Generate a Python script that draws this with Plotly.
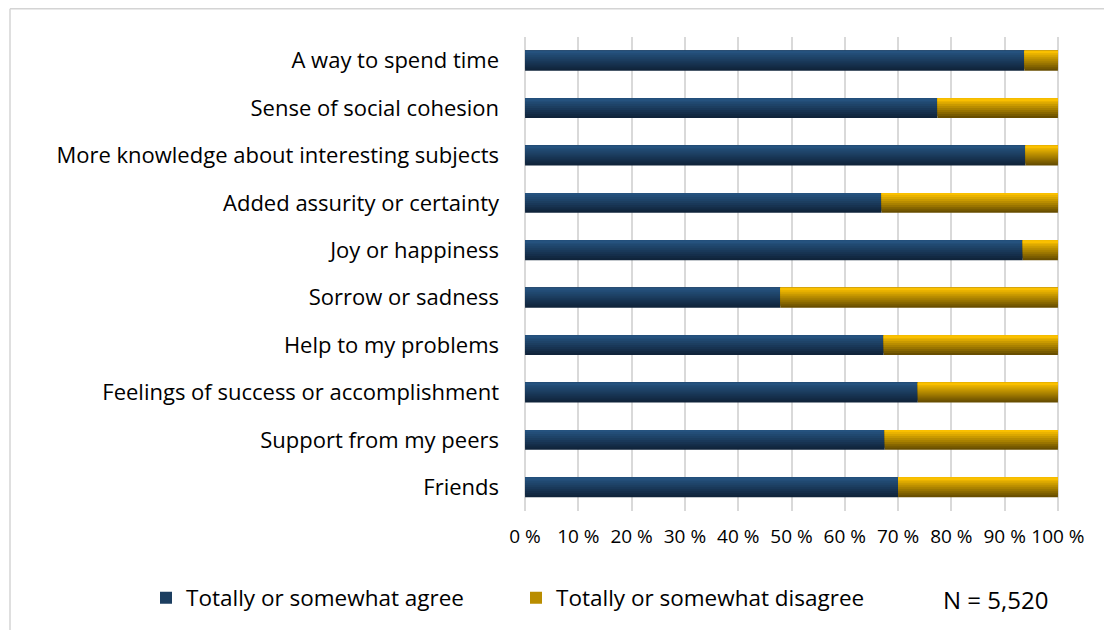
import plotly.graph_objects as go

# ---- data (top-to-bottom as shown) ----
categories = [
    "A way to spend time",
    "Sense of social cohesion",
    "More knowledge about interesting subjects",
    "Added assurity or certainty",
    "Joy or happiness",
    "Sorrow or sadness",
    "Help to my problems",
    "Feelings of success or accomplishment",
    "Support from my peers",
    "Friends",
]
agree = [93.7, 77.4, 93.9, 66.9, 93.4, 47.9, 67.3, 73.7, 67.5, 70.0]
disagree = [6.3, 22.6, 6.1, 33.1, 6.6, 52.1, 32.7, 26.3, 32.5, 30.0]
series_names = ["Totally or somewhat agree", "Totally or somewhat disagree"]
tick_values = [0, 10, 20, 30, 40, 50, 60, 70, 80, 90, 100]
tick_labels = [f"{v} %" for v in tick_values]
sample_note = "N = 5,520"

# ---- styling ----
FONT = "Open Sans"
BAR_T = 0.42          # bar thickness in category units
N_LAYERS = 10         # steps of the vertical gradient
blue_bottom, blue_top = (16, 36, 59), (37, 82, 126)
gold_bottom, gold_top = (104, 78, 0), (250, 192, 0)


def mix(c0, c1, t):
    return "rgb({},{},{})".format(*[round(a + (b - a) * t) for a, b in zip(c0, c1)])


cats = categories[::-1]
ag = agree[::-1]
dis = disagree[::-1]

fig = go.Figure()


def add_series(name, values, base, c_bottom, c_top):
    for k in range(N_LAYERS):
        h = BAR_T * (1 - k / N_LAYERS)
        fig.add_trace(go.Bar(
            y=cats, x=values, base=base, orientation="h",
            width=h, offset=BAR_T / 2 - h,
            marker=dict(color=mix(c_bottom, c_top, k / (N_LAYERS - 1)), line=dict(width=0)),
            name=name, legendgroup=name,
            showlegend=(k == N_LAYERS // 2),
            hoverinfo="skip" if k else "x+y+name",
        ))


add_series(series_names[0], ag, None, blue_bottom, blue_top)
add_series(series_names[1], dis, ag, gold_bottom, gold_top)

# page has an 8px body margin: work in page pixels, convert to figure pixels
OFF = 8
W, H = 1112 - OFF, 630 - OFF
L, R, T, B = 524 - OFF, 1059 - OFF, 37 - OFF, 512 - OFF
pw, ph = R - L, B - T
px = lambda p: (p - OFF - L) / pw
py = lambda p: (B - (p - OFF)) / ph

frame = dict(color="#d4d4d4", width=1.5)
fig.add_shape(type="line", xref="paper", yref="paper", x0=px(10), x1=px(1120),
              y0=py(8.8), y1=py(8.8), line=frame)
fig.add_shape(type="line", xref="paper", yref="paper", x0=px(10), x1=px(10),
              y0=py(8.8), y1=py(640), line=frame)

fig.add_annotation(text=sample_note, xref="paper", yref="paper", x=px(995), y=py(601),
                   xanchor="center", yanchor="middle", showarrow=False,
                   font=dict(family=FONT, size=24, color="#000000"))

fig.update_layout(
    width=W, height=H, autosize=False,
    margin=dict(l=L, r=W - R, t=T, b=H - B, pad=0),
    paper_bgcolor="white", plot_bgcolor="white",
    barmode="overlay",
    font=dict(family=FONT, color="#000000"),
    showlegend=True,
    legend=dict(orientation="h", x=px(146), xanchor="left", y=py(598), yanchor="middle",
                font=dict(family=FONT, size=22.5, color="#000000"),
                itemwidth=30, entrywidth=325, entrywidthmode="pixels",
                bgcolor="rgba(0,0,0,0)", traceorder="normal"),
    xaxis=dict(range=[-0.2, 100.2], tickvals=tick_values, ticktext=tick_labels,
               showgrid=True, gridcolor="#d9d9d9", gridwidth=1.5,
               zeroline=False, showline=False, ticks="",
               tickfont=dict(family=FONT, size=19, color="#000000"),
               ticklabelstandoff=12, fixedrange=True),
    yaxis=dict(type="category", categoryorder="array", categoryarray=cats,
               range=[-0.5, len(cats) - 0.5],
               showgrid=False, zeroline=False, showline=False, ticks="",
               tickfont=dict(family=FONT, size=22, color="#000000"),
               ticklabelstandoff=24, fixedrange=True),
)

fig.write_html("out.html")
